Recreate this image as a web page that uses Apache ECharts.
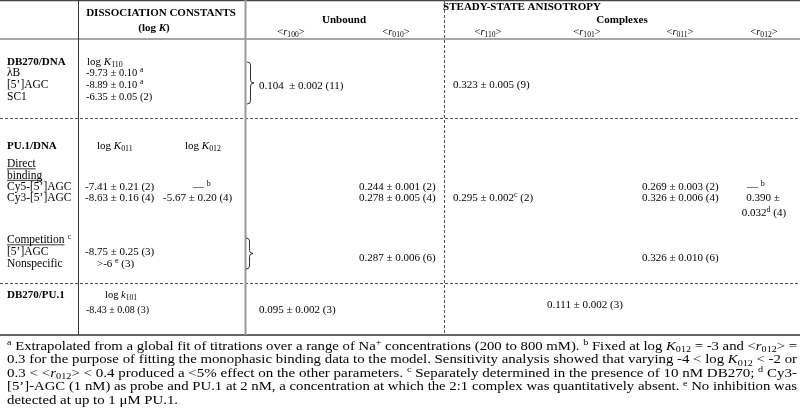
<!DOCTYPE html>
<html><head><meta charset="utf-8">
<script src="https://cdn.jsdelivr.net/npm/echarts@6/dist/echarts.min.js"></script>
<style>html,body{margin:0;padding:0;background:#fff}#c{width:800px;height:420px}</style>
</head><body><div id="c"></div><script>
// ---------------- DATA (table contents) ----------------
const groupHeaders = ['DISSOCIATION CONSTANTS', '(log {i|K})', 'STEADY-STATE ANISOTROPY'];
const subGroupHeaders = ['Unbound', 'Complexes'];
const anisotropyHeaders = ['<{i|r}{sub|100}>', '<{i|r}{sub|010}>', '<{i|r}{sub|110}>', '<{i|r}{sub|101}>', '<{i|r}{sub|011}>', '<{i|r}{sub|012}>'];
const sectionTitles = ['DB270/DNA', 'PU.1/DNA', 'DB270/PU.1'];
const constantHeaders = ['log {i|K}{sub|110}', 'log {i|K}{sub|011}', 'log {i|K}{sub|012}', 'log {i|k}{sub|101}'];
const db270DnaSites = ['λB', '[5’]AGC', 'SC1'];
const db270DnaLogK110 = ['-9.73 ± 0.10 {sup|a}', '-8.89 ± 0.10 {sup|a}', '-6.35 ± 0.05 (2)'];
const db270DnaR100 = ['0.104  ± 0.002 (11)'];
const db270DnaR110 = ['0.323 ± 0.005 (9)'];
const pu1Subheads = ['Direct', 'binding', 'Competition {sup|c}'];
const pu1DirectProbes = ['Cy5-[5’]AGC', 'Cy3-[5’]AGC'];
const pu1DirectLogK011 = ['-7.41 ± 0.21 (2)', '-8.63 ± 0.16 (4)'];
const pu1DirectLogK012 = ['— {sup|b}', '-5.67 ± 0.20 (4)'];
const pu1DirectR010 = ['0.244 ± 0.001 (2)', '0.278 ± 0.005 (4)'];
const pu1DirectR110 = ['0.295 ± 0.002{sup|c} (2)'];
const pu1DirectR011 = ['0.269 ± 0.003 (2)', '0.326 ± 0.006 (4)'];
const pu1DirectR012 = ['— {sup|b}', '0.390 ±', '0.032{sup|d} (4)'];
const pu1CompetitorDNA = ['[5’]AGC', 'Nonspecific'];
const pu1CompetitionLogK011 = ['-8.75 ± 0.25 (3)', '>-6 {sup|e} (3)'];
const pu1CompetitionR010 = ['0.287 ± 0.006 (6)'];
const pu1CompetitionR011 = ['0.326 ± 0.010 (6)'];
const db270Pu1LogK101 = ['-8.43 ± 0.08 (3)'];
const db270Pu1R100 = ['0.095 ± 0.002 (3)'];
const db270Pu1R101 = ['0.111 ± 0.002 (3)'];
const footnotes = [
  '{sup|a} Extrapolated from a global fit of titrations over a range of Na{sup|+} concentrations (200 to 800 mM). {sup|b} Fixed at log {i|K}{sub|012} = -3 and <{i|r}{sub|012}> =',
  '0.3 for the purpose of fitting the monophasic binding data to the model. Sensitivity analysis showed that varying -4 < log {i|K}{sub|012} < -2 or',
  '0.3 < <{i|r}{sub|012}> < 0.4 produced a <5% effect on the other parameters. {sup|c} Separately determined in the presence of 10 nM DB270; {sup|d} Cy3-',
  '[5’]-AGC (1 nM) as probe and PU.1 at 2 nM, a concentration at which the 2:1 complex was quantitatively absent. {sup|e} No inhibition was',
  'detected at up to 1 μM PU.1.'
];

// ---------------- LAYOUT ----------------
const SERIF = '"Liberation Serif","Times New Roman",serif';
const els = [];
const mctx = document.createElement('canvas').getContext('2d');

function richFor(size, bold, subScale) {
  const b = bold ? 'bold ' : '';
  const s = +(size * (subScale || 0.72)).toFixed(1);
  return {
    i: { font: 'italic ' + b + size + 'px ' + SERIF },
    sub: { font: b + s + 'px ' + SERIF, verticalAlign: 'bottom', lineHeight: s },
    sup: { font: b + s + 'px ' + SERIF, verticalAlign: 'top', lineHeight: s }
  };
}
function measure(str, size, bold, subScale) {
  const b = bold ? 'bold ' : '';
  const s = +(size * (subScale || 0.72)).toFixed(1);
  const re = /\{(\w+)\|([^}]*)\}|([^{]+)/g; let m, w = 0;
  while ((m = re.exec(str))) {
    if (m[3] !== undefined) { mctx.font = b + size + 'px ' + SERIF; w += mctx.measureText(m[3]).width; }
    else if (m[1] === 'i') { mctx.font = 'italic ' + b + size + 'px ' + SERIF; w += mctx.measureText(m[2]).width; }
    else { mctx.font = b + s + 'px ' + SERIF; w += mctx.measureText(m[2]).width; }
  }
  return w;
}
function txt(text, x, y, size, opts) {
  opts = opts || {};
  const el = {
    type: 'text', z: 10, x: x, y: y,
    style: {
      legacy: false, text: text, x: 0, y: 0,
      font: (opts.bold ? 'bold ' : '') + size + 'px ' + SERIF,
      fill: '#000', align: opts.align || 'left', verticalAlign: 'middle',
      lineHeight: size + 3, rich: richFor(size, opts.bold, opts.subScale)
    }
  };
  if (opts.scaleX) { el.scaleX = opts.scaleX; }
  els.push(el);
}
function line(x1, y1, x2, y2, stroke, w, dash) {
  els.push({ type: 'line', z: 5, shape: { x1, y1, x2, y2 },
    style: { stroke: stroke, lineWidth: w, lineDash: dash || null } });
}
function curve(x1, y1, cpx1, cpy1, x2, y2) {
  els.push({ type: 'bezierCurve', z: 10, shape: { x1, y1, cpx1, cpy1, x2, y2 },
    style: { fill: null, stroke: '#000', lineWidth: 0.8 } });
}
function brace(x, y0, y1) {
  const xm = x + 3.5, xt = x + 7, ym = (y0 + y1) / 2;
  curve(x, y0, xm, y0, xm, y0 + 3);
  line(xm, y0 + 3, xm, ym - 3, '#000', 0.8);
  curve(xm, ym - 3, xm, ym, xt, ym);
  curve(xt, ym, xm, ym, xm, ym + 3);
  line(xm, ym + 3, xm, y1 - 3, '#000', 0.8);
  curve(xm, y1 - 3, xm, y1, x, y1);
}
function underline(text, x, y, size) {
  const plain = text.split(' {')[0];
  const w = measure(plain, size);
  line(x, y + size * 0.42, x + w, y + size * 0.42, '#000', 0.8);
}

// rules
const BOTTOM = 335;
line(0, 0.6, 800, 0.6, '#444', 1.2);
line(0, 39, 800, 39, '#888', 1.5);
line(0, 118.5, 800, 118.5, '#555', 1, [3, 2]);
line(0, 283.5, 800, 283.5, '#555', 1, [3, 2]);
line(0, BOTTOM, 800, BOTTOM, '#333', 1.6);
line(78.5, 0, 78.5, BOTTOM, '#333', 1);
line(245.5, 0, 245.5, BOTTOM, '#999', 2);
line(444.5, 0, 444.5, BOTTOM, '#555', 1, [3, 2]);

// headers
txt(groupHeaders[0], 161, 13, 11, { bold: true, align: 'center' });
txt(groupHeaders[1], 154, 28, 11, { bold: true, align: 'center' });
txt(groupHeaders[2], 522, 7, 11, { bold: true, align: 'center' });
txt(subGroupHeaders[0], 344, 20, 11, { bold: true, align: 'center' });
txt(subGroupHeaders[1], 622, 20, 11, { bold: true, align: 'center' });
const anisoCenters = [291, 396, 488, 587, 680, 764];
anisotropyHeaders.forEach((h, i) => txt(h, anisoCenters[i], 32, 10.5, { align: 'center' }));

// section 1: DB270/DNA
const LBL = 11.5;
txt(sectionTitles[0], 7, 62, 11, { bold: true });
txt(constantHeaders[0], 87, 62, 11);
const s1Rows = [73, 85, 97];
db270DnaSites.forEach((t, i) => txt(t, 7, s1Rows[i], LBL));
db270DnaLogK110.forEach((t, i) => txt(t, 86, s1Rows[i], 10.5));
brace(247, 62, 104);
txt(db270DnaR100[0], 259, 86, 11);
txt(db270DnaR110[0], 453, 85, 11);

// section 2: PU.1/DNA
txt(sectionTitles[1], 7, 146, 11, { bold: true });
txt(constantHeaders[1], 97, 146, 11);
txt(constantHeaders[2], 185, 146, 11);
const subY = [164, 175.5, 240];
pu1Subheads.forEach((t, i) => { txt(t, 7, subY[i], LBL); underline(t, 7, subY[i], LBL); });
const dRows = [187, 198, 213];
pu1DirectProbes.forEach((t, i) => txt(t, 7, dRows[i], LBL));
pu1DirectLogK011.forEach((t, i) => txt(t, 85, dRows[i], 11));
txt(pu1DirectLogK012[0], 193, dRows[0], 11);
txt(pu1DirectLogK012[1], 163, dRows[1], 11);
pu1DirectR010.forEach((t, i) => txt(t, 359, dRows[i], 11));
txt(pu1DirectR110[0], 453, dRows[1], 11);
pu1DirectR011.forEach((t, i) => txt(t, 642, dRows[i], 11));
txt(pu1DirectR012[0], 747, dRows[0], 11);
txt(pu1DirectR012[1], 763, dRows[1], 11, { align: 'center' });
txt(pu1DirectR012[2], 764, dRows[2], 11, { align: 'center' });
const cRows = [252, 264];
pu1CompetitorDNA.forEach((t, i) => txt(t, 7, cRows[i], LBL));
txt(pu1CompetitionLogK011[0], 85, cRows[0], 11);
txt(pu1CompetitionLogK011[1], 97, cRows[1], 11);
brace(246, 238, 269);
txt(pu1CompetitionR010[0], 359, 258, 11);
txt(pu1CompetitionR011[0], 642, 258, 11);

// section 3: DB270/PU.1
txt(sectionTitles[2], 7, 295, 11, { bold: true });
txt(constantHeaders[3], 105, 295, 10.5);
txt(db270Pu1LogK101[0], 86, 310, 10);
txt(db270Pu1R100[0], 259, 310, 11);
txt(db270Pu1R101[0], 547, 305, 11);

// footnotes (justified to the table width)
const FN = 12, fnLeft = 7, fnRight = 797;
const scales = footnotes.map(t => (fnRight - fnLeft) / measure(t, FN, false, 0.68));
const avg = scales.slice(0, -1).reduce((a, b) => a + b, 0) / (scales.length - 1);
footnotes.forEach((t, i) => {
  const sc = i < footnotes.length - 1 ? scales[i] : avg;
  txt(t, fnLeft, 346.5 + i * 13.6, FN, { scaleX: sc, subScale: 0.68 });
});

const chart = echarts.init(document.getElementById('c'), null, { renderer: 'canvas' });
chart.setOption({ animation: false, backgroundColor: '#fff', graphic: { elements: els } });
</script></body></html>
